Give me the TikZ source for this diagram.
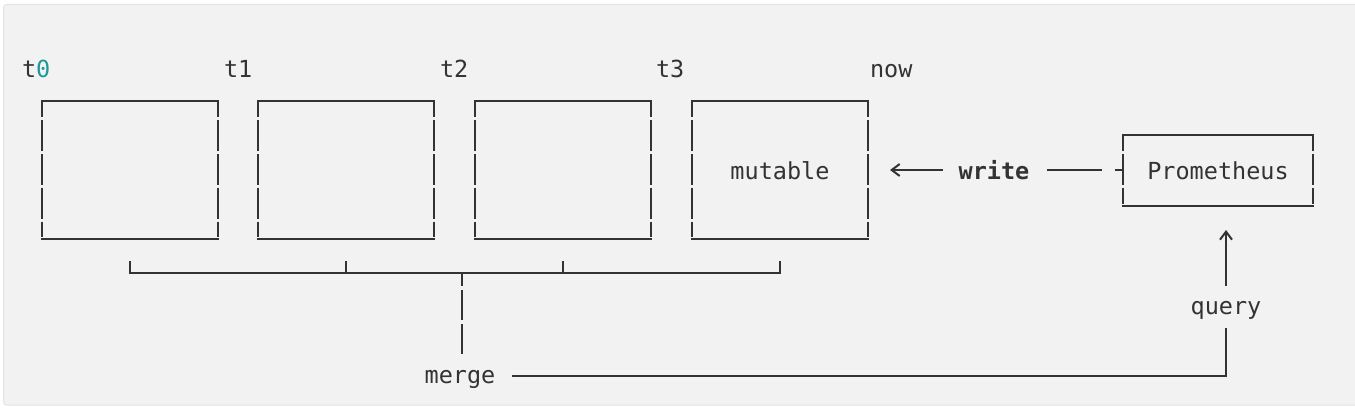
\documentclass[tikz,border=0pt]{standalone}
\usepackage{fontspec}
\setmonofont{DejaVu Sans Mono}
\usetikzlibrary{arrows.meta,calc}

\definecolor{ink}{HTML}{333333}
\definecolor{panel}{HTML}{F2F2F2}
\definecolor{edge}{HTML}{E4E4E4}
\definecolor{zero}{HTML}{1A9A9A}
\newcommand{\dsize}{\fontsize{23.5}{28}\selectfont}

\tikzset{
  lbl/.style={font=\ttfamily\dsize, text=ink, inner sep=0pt, text height=17pt, text depth=5pt},
  blk/.style={lbl, text height=20pt, text depth=2pt, minimum width=174pt, minimum height=136pt},
  sides/.style={dash pattern=on 16pt off 3pt on 31pt off 3pt on 31pt off 3pt on 31pt off 3pt on 15pt},
  psides/.style={dash pattern=on 16pt off 3pt on 31pt off 3pt on 16pt},
  stem/.style={dash pattern=on 14pt off 4pt on 30pt off 4pt on 30pt},
  barb/.style={-{Straight Barb[length=8pt,width=12pt]}},
}

\begin{document}
\begin{tikzpicture}[x=1pt, y=-1pt, line width=2pt, color=ink]
    \useasboundingbox (0,0) rectangle (1355,409);
    \fill[white] (0,0) rectangle (1355,409);
    \filldraw[fill=panel, draw=edge, line width=1pt, rounded corners=3pt] (3.5,4.5) rectangle (1362,405);

    % time marks
    \node[lbl, anchor=west] (t0) at (21,72) {t\textcolor{zero}{0}};
    \node[lbl, anchor=west] (t1) at (223,72) {t1};
    \node[lbl, anchor=west] (t2) at (439,72) {t2};
    \node[lbl, anchor=west] (t3) at (655,72) {t3};
    \node[lbl, anchor=west] (now) at (869,72) {now};

    % blocks
    \node[blk] (b0) at (130,170) {};
    \node[blk] (b1) at (346,170) {};
    \node[blk] (b2) at (563,170) {};
    \node[blk] (b3) at (780,170) {mutable};
    \foreach \b in {b0,b1,b2,b3}{
        \draw[line cap=rect] (\b.north west) -- (\b.north east);
        \draw[line cap=rect] (\b.south west) -- (\b.south east);
        \draw[sides] (\b.north west) -- (\b.south west);
        \draw[sides] (\b.north east) -- (\b.south east);
    }

    \node[blk, minimum width=188pt, minimum height=69pt] (prom) at (1218,170.5) {Prometheus};
    \draw[line cap=rect] (prom.north west) -- (prom.north east);
    \draw[line cap=rect] (prom.south west) -- (prom.south east);
    \draw[psides] (prom.north west) -- (prom.south west);
    \draw[psides] (prom.north east) -- (prom.south east);

    \node[lbl, font=\ttfamily\bfseries\dsize] (write) at (994,173) {write};
    \node[lbl] (query) at (1226,308) {query};
    \node[lbl] (merge) at (460,377) {merge};

    % write path
    \draw[shorten <=17pt, shorten >=21pt] (write.east |- b3.east) -- (prom.west |- b3.east);
    \draw (prom.west |- b3.east) -- ++(-8,0);
    \draw[barb, shorten <=15pt, shorten >=22pt] (write.west |- b3.east) -- (b3.east);

    % merge bracket
    \draw ($(b0.south)+(0,22)$) -- ($(b0.south)+(0,34)$) -- ($(b3.south)+(0,34)$) -- ($(b3.south)+(0,22)$);
    \foreach \b in {b1,b2}
        \draw ($(\b.south)+(0,22)$) -- ++(0,12);
    \coordinate (br) at (462,272);
    \draw[stem] (br) -- ++(0,82);

    % query path
    \draw[shorten <=16pt, shorten >=8pt] (merge.east |- 0,376) -| (query.south);
    \draw[barb, shorten <=10pt, shorten >=24pt] (query.north) -- (prom.south -| query.north);
\end{tikzpicture}
\end{document}
